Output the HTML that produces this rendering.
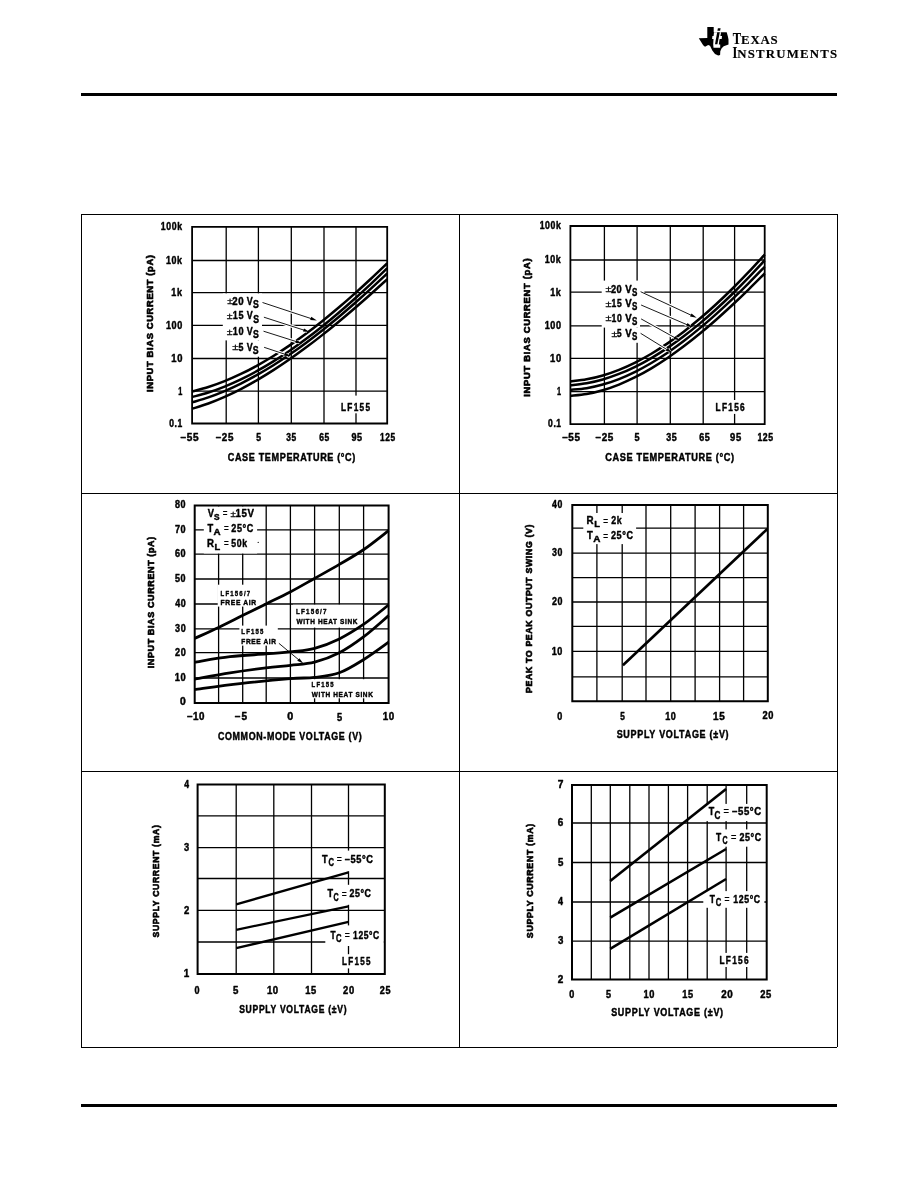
<!DOCTYPE html>
<html><head><meta charset="utf-8"><title>LF155/LF156 typical performance characteristics</title>
<style>
html,body{margin:0;padding:0;background:#fff;}
body{width:918px;height:1188px;overflow:hidden;position:relative;}
svg{position:absolute;left:0;top:0;display:block;filter:grayscale(1);}
text{font-family:"Liberation Sans",Arial,sans-serif;font-weight:bold;fill:#000;stroke:#000;stroke-width:0.45px;stroke-linejoin:round;}
line,path,rect,polygon,circle{stroke:#000;}
rect,polygon,circle{stroke:none;}
</style></head><body>
<svg width="918" height="1188" viewBox="0 0 918 1188">
<rect x="0" y="0" width="918" height="1188" fill="#fff"/>
<rect x="81" y="93" width="756" height="3"/>
<rect x="81" y="1104" width="756" height="3"/>
<line x1="81.5" y1="214" x2="81.5" y2="1047.5" stroke-width="1"/>
<line x1="837.5" y1="214" x2="837.5" y2="1047" stroke-width="1"/>
<line x1="81" y1="214.5" x2="838" y2="214.5" stroke-width="1"/>
<line x1="81" y1="1047.5" x2="837" y2="1047.5" stroke-width="1"/>
<line x1="459.5" y1="214" x2="459.5" y2="1047" stroke-width="1"/>
<line x1="81" y1="493.5" x2="837" y2="493.5" stroke-width="1"/>
<line x1="81" y1="771.5" x2="837" y2="771.5" stroke-width="1"/>
<line x1="226.2" y1="226.85" x2="226.2" y2="423.5" stroke-width="1.3"/>
<line x1="258.4" y1="226.85" x2="258.4" y2="423.5" stroke-width="1.3"/>
<line x1="291.3" y1="226.85" x2="291.3" y2="423.5" stroke-width="1.3"/>
<line x1="324" y1="226.85" x2="324" y2="423.5" stroke-width="1.3"/>
<line x1="356" y1="226.85" x2="356" y2="423.5" stroke-width="1.3"/>
<line x1="192.1" y1="260.5" x2="387.2" y2="260.5" stroke-width="1.3"/>
<line x1="192.1" y1="292.6" x2="387.2" y2="292.6" stroke-width="1.3"/>
<line x1="192.1" y1="325.4" x2="387.2" y2="325.4" stroke-width="1.3"/>
<line x1="192.1" y1="358.5" x2="387.2" y2="358.5" stroke-width="1.3"/>
<line x1="192.1" y1="391.2" x2="387.2" y2="391.2" stroke-width="1.3"/>
<rect x="222.8" y="293.4" width="39.2" height="47" fill="#fff"/>
<rect x="250" y="340.4" width="12" height="16.3" fill="#fff"/>
<rect x="340" y="395.6" width="32" height="17.7" fill="#fff"/>
<path d="M192.1 226.85H387.2V423.5H192.1Z" fill="none" stroke-width="1.8"/>
<path d="M192.1 391.47 C194.81 390.73 202.94 388.73 208.36 387.01 C213.78 385.29 219.2 383.33 224.62 381.16 C230.04 378.99 235.46 376.59 240.88 373.99 C246.29 371.4 251.71 368.59 257.13 365.59 C262.55 362.6 267.97 359.4 273.39 356.03 C278.81 352.67 284.23 349.11 289.65 345.4 C295.07 341.68 300.49 337.79 305.91 333.75 C311.33 329.72 316.75 325.52 322.17 321.19 C327.59 316.86 333.01 312.38 338.42 307.78 C343.84 303.18 349.26 298.44 354.68 293.59 C360.1 288.75 365.52 283.78 370.94 278.72 C376.36 273.66 384.49 265.81 387.2 263.23" fill="none" stroke-width="2.5"/>
<path d="M192.1 397.08 C194.81 396.31 202.94 394.26 208.36 392.51 C213.78 390.76 219.2 388.78 224.62 386.59 C230.04 384.4 235.46 381.98 240.88 379.38 C246.29 376.77 251.71 373.95 257.13 370.95 C262.55 367.95 267.97 364.74 273.39 361.37 C278.81 358 284.23 354.44 289.65 350.72 C295.07 347 300.49 343.11 305.91 339.07 C311.33 335.02 316.75 330.82 322.17 326.47 C327.59 322.13 333.01 317.64 338.42 313.02 C343.84 308.4 349.26 303.64 354.68 298.77 C360.1 293.9 365.52 288.9 370.94 283.8 C376.36 278.7 384.49 270.78 387.2 268.17" fill="none" stroke-width="2.5"/>
<path d="M192.1 402.38 C194.81 401.54 202.94 399.23 208.36 397.34 C213.78 395.46 219.2 393.34 224.62 391.04 C230.04 388.74 235.46 386.23 240.88 383.54 C246.29 380.85 251.71 377.96 257.13 374.91 C262.55 371.85 267.97 368.61 273.39 365.22 C278.81 361.82 284.23 358.25 289.65 354.53 C295.07 350.82 300.49 346.94 305.91 342.93 C311.33 338.92 316.75 334.75 322.17 330.47 C327.59 326.19 333.01 321.77 338.42 317.23 C343.84 312.7 349.26 308.04 354.68 303.28 C360.1 298.53 365.52 293.65 370.94 288.69 C376.36 283.73 384.49 276.06 387.2 273.53" fill="none" stroke-width="2.5"/>
<path d="M192.1 408.83 C194.81 407.94 202.94 405.47 208.36 403.47 C213.78 401.47 219.2 399.24 224.62 396.83 C230.04 394.43 235.46 391.81 240.88 389.02 C246.29 386.23 251.71 383.24 257.13 380.1 C262.55 376.96 267.97 373.63 273.39 370.16 C278.81 366.7 284.23 363.06 289.65 359.3 C295.07 355.54 300.49 351.62 305.91 347.59 C311.33 343.56 316.75 339.38 322.17 335.11 C327.59 330.84 333.01 326.45 338.42 321.96 C343.84 317.48 349.26 312.89 354.68 308.22 C360.1 303.55 365.52 298.79 370.94 293.97 C376.36 289.15 384.49 281.74 387.2 279.29" fill="none" stroke-width="2.5"/>
<line x1="270.1" y1="305.01" x2="314.53" y2="319.71" stroke-width="3.2" style="stroke:#fff"/>
<line x1="262.5" y1="302.5" x2="311.68" y2="318.77" stroke-width="0.9"/>
<polygon points="316.9,320.5 310.2,320.07 311.26,316.84"/>
<line x1="271.51" y1="319.66" x2="307.32" y2="331.23" stroke-width="3.2" style="stroke:#fff"/>
<line x1="263.9" y1="317.2" x2="304.47" y2="330.31" stroke-width="0.9"/>
<polygon points="309.7,332 302.99,331.62 304.04,328.38"/>
<line x1="271.13" y1="333.62" x2="299.62" y2="342.64" stroke-width="3.2" style="stroke:#fff"/>
<line x1="263.5" y1="331.2" x2="296.76" y2="341.74" stroke-width="0.9"/>
<polygon points="302,343.4 295.29,343.06 296.32,339.82"/>
<line x1="271.69" y1="349.83" x2="288.43" y2="355.41" stroke-width="3.2" style="stroke:#fff"/>
<line x1="264.1" y1="347.3" x2="285.58" y2="354.46" stroke-width="0.9"/>
<polygon points="290.8,356.2 284.1,355.76 285.17,352.53"/>
<text x="227.2" y="304.4" font-size="9.5" textLength="5.6" lengthAdjust="spacingAndGlyphs" style="font-weight:normal;stroke-width:0.25px">±</text>
<text transform="translate(232.27 304.5) scale(0.93 1)" font-size="10.4" textLength="12.21" lengthAdjust="spacing">20</text>
<text x="246.64" y="304.5" font-size="10.4" textLength="5.92" lengthAdjust="spacingAndGlyphs">V</text>
<text x="252.95" y="307.7" font-size="10.4" textLength="5.79" lengthAdjust="spacingAndGlyphs">S</text>
<text x="226.8" y="319.3" font-size="9.5" textLength="5.8" lengthAdjust="spacingAndGlyphs" style="font-weight:normal;stroke-width:0.25px">±</text>
<text transform="translate(232.83 319.4) scale(0.87 1)" font-size="10.4" textLength="12.26" lengthAdjust="spacing">15</text>
<text x="246.64" y="319.4" font-size="10.4" textLength="5.92" lengthAdjust="spacingAndGlyphs">V</text>
<text x="253.15" y="322.6" font-size="10.4" textLength="5.79" lengthAdjust="spacingAndGlyphs">S</text>
<text x="226.8" y="334.5" font-size="9.5" textLength="5.8" lengthAdjust="spacingAndGlyphs" style="font-weight:normal;stroke-width:0.25px">±</text>
<text transform="translate(232.83 334.6) scale(0.88 1)" font-size="10.4" textLength="12.25" lengthAdjust="spacing">10</text>
<text x="246.64" y="334.6" font-size="10.4" textLength="5.92" lengthAdjust="spacingAndGlyphs">V</text>
<text x="252.95" y="337.8" font-size="10.4" textLength="5.79" lengthAdjust="spacingAndGlyphs">S</text>
<text x="232.2" y="350.4" font-size="9.5" textLength="6.3" lengthAdjust="spacingAndGlyphs" style="font-weight:normal;stroke-width:0.25px">±</text>
<text x="238.53" y="350.5" font-size="10.4" textLength="4.92" lengthAdjust="spacingAndGlyphs">5</text>
<text x="246.64" y="350.5" font-size="10.4" textLength="5.92" lengthAdjust="spacingAndGlyphs">V</text>
<text x="252.75" y="353.7" font-size="10.4" textLength="5.79" lengthAdjust="spacingAndGlyphs">S</text>
<text transform="translate(341.04 410.7) scale(0.78 1)" font-size="10.6" textLength="37.28" lengthAdjust="spacing">LF155</text>
<text transform="translate(160.85 230.17) scale(0.87 1)" font-size="10" textLength="24.32" lengthAdjust="spacing">100k</text>
<text transform="translate(165.94 263.82) scale(0.89 1)" font-size="10" textLength="18.03" lengthAdjust="spacing">10k</text>
<text transform="translate(171.33 295.92) scale(0.9 1)" font-size="10" textLength="11.79" lengthAdjust="spacing">1k</text>
<text transform="translate(165.92 328.72) scale(0.91 1)" font-size="10" textLength="18" lengthAdjust="spacing">100</text>
<text transform="translate(171.31 361.82) scale(0.94 1)" font-size="10" textLength="11.76" lengthAdjust="spacing">10</text>
<text x="178.14" y="394.52" font-size="10" textLength="4.06" lengthAdjust="spacingAndGlyphs">1</text>
<text transform="translate(169.27 426.82) scale(0.85 1)" font-size="10" textLength="15.32" lengthAdjust="spacing">0.1</text>
<text transform="translate(180.6 440.6) scale(1 1)" font-size="10" textLength="17.98" lengthAdjust="spacing">–55</text>
<text transform="translate(215.8 440.6) scale(0.98 1)" font-size="10" textLength="17.91" lengthAdjust="spacing">–25</text>
<text x="256.13" y="440.6" font-size="10" textLength="4.81" lengthAdjust="spacingAndGlyphs">5</text>
<text transform="translate(286.31 440.6) scale(0.84 1)" font-size="10" textLength="11.84" lengthAdjust="spacing">35</text>
<text transform="translate(319.29 440.6) scale(0.85 1)" font-size="10" textLength="11.83" lengthAdjust="spacing">65</text>
<text transform="translate(351.39 440.6) scale(0.9 1)" font-size="10" textLength="11.79" lengthAdjust="spacing">95</text>
<text transform="translate(379.97 440.6) scale(0.84 1)" font-size="10" textLength="18.11" lengthAdjust="spacing">125</text>
<text transform="translate(227.73 460.6) scale(0.89 1)" font-size="10.2" textLength="143.36" lengthAdjust="spacing">CASE TEMPERATURE (°C)</text>
<text transform="translate(152.8 391.3) rotate(-90) scale(1 1)" x="-0.63" y="0" font-size="9.4" textLength="136.9" lengthAdjust="spacing" style="stroke-width:0.65px">INPUT BIAS CURRENT (pA)</text>
<line x1="604.4" y1="226" x2="604.4" y2="424.1" stroke-width="1.3"/>
<line x1="637.1" y1="226" x2="637.1" y2="424.1" stroke-width="1.3"/>
<line x1="670.3" y1="226" x2="670.3" y2="424.1" stroke-width="1.3"/>
<line x1="703.2" y1="226" x2="703.2" y2="424.1" stroke-width="1.3"/>
<line x1="734.6" y1="226" x2="734.6" y2="424.1" stroke-width="1.3"/>
<line x1="570.4" y1="260" x2="764.7" y2="260" stroke-width="1.3"/>
<line x1="570.4" y1="292.2" x2="764.7" y2="292.2" stroke-width="1.3"/>
<line x1="570.4" y1="325.9" x2="764.7" y2="325.9" stroke-width="1.3"/>
<line x1="570.4" y1="358.4" x2="764.7" y2="358.4" stroke-width="1.3"/>
<line x1="570.4" y1="391.7" x2="764.7" y2="391.7" stroke-width="1.3"/>
<rect x="601.7" y="280.6" width="38.3" height="47" fill="#fff"/>
<rect x="640" y="280.6" width="4.4" height="29.4" fill="#fff"/>
<rect x="630" y="327.6" width="10" height="15.2" fill="#fff"/>
<rect x="714" y="400" width="33" height="13.9" fill="#fff"/>
<path d="M570.4 226H764.7V424.1H570.4Z" fill="none" stroke-width="1.8"/>
<path d="M570.4 381.44 C573.1 381.09 581.19 380.34 586.59 379.34 C591.99 378.34 597.39 377.03 602.78 375.44 C608.18 373.86 613.58 371.97 618.98 369.82 C624.37 367.67 629.77 365.23 635.17 362.55 C640.56 359.86 645.96 356.9 651.36 353.71 C656.76 350.51 662.15 347.06 667.55 343.38 C672.95 339.7 678.34 335.77 683.74 331.64 C689.14 327.5 694.54 323.13 699.93 318.57 C705.33 314 710.73 309.21 716.12 304.24 C721.52 299.27 726.92 294.1 732.32 288.75 C737.71 283.4 743.11 277.86 748.51 272.16 C753.91 266.46 762 257.48 764.7 254.55" fill="none" stroke-width="2.5"/>
<path d="M570.4 385.25 C573.1 384.92 581.19 384.23 586.59 383.27 C591.99 382.31 597.39 381.03 602.78 379.48 C608.18 377.92 613.58 376.07 618.98 373.95 C624.37 371.84 629.77 369.43 635.17 366.78 C640.56 364.13 645.96 361.21 651.36 358.05 C656.76 354.9 662.15 351.48 667.55 347.85 C672.95 344.22 678.34 340.34 683.74 336.26 C689.14 332.17 694.54 327.86 699.93 323.36 C705.33 318.86 710.73 314.14 716.12 309.24 C721.52 304.35 726.92 299.25 732.32 293.99 C737.71 288.74 743.11 283.29 748.51 277.7 C753.91 272.1 762 263.31 764.7 260.44" fill="none" stroke-width="2.5"/>
<path d="M570.4 389.87 C573.1 389.59 581.19 389.09 586.59 388.21 C591.99 387.32 597.39 386.09 602.78 384.57 C608.18 383.04 613.58 381.19 618.98 379.07 C624.37 376.95 629.77 374.52 635.17 371.85 C640.56 369.17 645.96 366.21 651.36 363.02 C656.76 359.83 662.15 356.37 667.55 352.71 C672.95 349.05 678.34 345.14 683.74 341.04 C689.14 336.95 694.54 332.63 699.93 328.15 C705.33 323.67 710.73 318.98 716.12 314.15 C721.52 309.32 726.92 304.31 732.32 299.18 C737.71 294.04 743.11 288.74 748.51 283.35 C753.91 277.95 762 269.54 764.7 266.78" fill="none" stroke-width="2.5"/>
<path d="M570.4 395.87 C573.1 395.56 581.19 394.97 586.59 394.03 C591.99 393.09 597.39 391.79 602.78 390.22 C608.18 388.64 613.58 386.73 618.98 384.57 C624.37 382.4 629.77 379.93 635.17 377.22 C640.56 374.51 645.96 371.52 651.36 368.31 C656.76 365.11 662.15 361.64 667.55 357.97 C672.95 354.31 678.34 350.41 683.74 346.34 C689.14 342.27 694.54 337.98 699.93 333.55 C705.33 329.11 710.73 324.49 716.12 319.73 C721.52 314.98 726.92 310.06 732.32 305.03 C737.71 300 743.11 294.83 748.51 289.57 C753.91 284.31 762 276.17 764.7 273.49" fill="none" stroke-width="2.5"/>
<line x1="647.85" y1="295.07" x2="694.43" y2="316.75" stroke-width="3.2" style="stroke:#fff"/>
<line x1="640.6" y1="291.7" x2="691.71" y2="315.48" stroke-width="0.9"/>
<polygon points="696.7,317.8 690.09,316.6 691.52,313.52"/>
<line x1="648.45" y1="308.16" x2="690.5" y2="326.21" stroke-width="3.2" style="stroke:#fff"/>
<line x1="641.1" y1="305" x2="687.75" y2="325.03" stroke-width="0.9"/>
<polygon points="692.8,327.2 686.16,326.2 687.5,323.07"/>
<line x1="648.09" y1="322.8" x2="677.82" y2="339.38" stroke-width="3.2" style="stroke:#fff"/>
<line x1="641.1" y1="318.9" x2="675.2" y2="337.92" stroke-width="0.9"/>
<polygon points="680,340.6 673.5,338.92 675.15,335.95"/>
<line x1="647.41" y1="337.5" x2="670.07" y2="351.49" stroke-width="3.2" style="stroke:#fff"/>
<line x1="640.6" y1="333.3" x2="667.52" y2="349.91" stroke-width="0.9"/>
<polygon points="672.2,352.8 665.78,350.83 667.56,347.94"/>
<text x="605.5" y="292.4" font-size="9.5" textLength="6" lengthAdjust="spacingAndGlyphs" style="font-weight:normal;stroke-width:0.25px">±</text>
<text transform="translate(610.88 292.5) scale(0.89 1)" font-size="10.4" textLength="12.24" lengthAdjust="spacing">20</text>
<text x="625.13" y="292.5" font-size="10.4" textLength="6.43" lengthAdjust="spacingAndGlyphs">V</text>
<text x="632.07" y="295.7" font-size="10.4" textLength="5.34" lengthAdjust="spacingAndGlyphs">S</text>
<text x="605.5" y="307" font-size="9.5" textLength="6" lengthAdjust="spacingAndGlyphs" style="font-weight:normal;stroke-width:0.25px">±</text>
<text transform="translate(611.56 307.1) scale(0.82 1)" font-size="10.4" textLength="12.3" lengthAdjust="spacing">15</text>
<text x="625.13" y="307.1" font-size="10.4" textLength="6.43" lengthAdjust="spacingAndGlyphs">V</text>
<text x="632.07" y="310.3" font-size="10.4" textLength="5.34" lengthAdjust="spacingAndGlyphs">S</text>
<text x="605.5" y="321.4" font-size="9.5" textLength="6" lengthAdjust="spacingAndGlyphs" style="font-weight:normal;stroke-width:0.25px">±</text>
<text transform="translate(611.56 321.5) scale(0.83 1)" font-size="10.4" textLength="12.29" lengthAdjust="spacing">10</text>
<text x="625.13" y="321.5" font-size="10.4" textLength="6.43" lengthAdjust="spacingAndGlyphs">V</text>
<text x="632.07" y="324.7" font-size="10.4" textLength="5.34" lengthAdjust="spacingAndGlyphs">S</text>
<text x="611.6" y="336.6" font-size="9.5" textLength="5.9" lengthAdjust="spacingAndGlyphs" style="font-weight:normal;stroke-width:0.25px">±</text>
<text x="617.05" y="336.7" font-size="10.4" textLength="4.58" lengthAdjust="spacingAndGlyphs">5</text>
<text x="625.13" y="336.7" font-size="10.4" textLength="6.43" lengthAdjust="spacingAndGlyphs">V</text>
<text x="632.07" y="339.9" font-size="10.4" textLength="5.34" lengthAdjust="spacingAndGlyphs">S</text>
<text transform="translate(715.55 410.6) scale(0.78 1)" font-size="10.6" textLength="37.29" lengthAdjust="spacing">LF156</text>
<text transform="translate(539.65 229.32) scale(0.87 1)" font-size="10" textLength="24.32" lengthAdjust="spacing">100k</text>
<text transform="translate(544.74 263.32) scale(0.89 1)" font-size="10" textLength="18.03" lengthAdjust="spacing">10k</text>
<text transform="translate(550.13 295.52) scale(0.9 1)" font-size="10" textLength="11.79" lengthAdjust="spacing">1k</text>
<text transform="translate(544.72 329.22) scale(0.91 1)" font-size="10" textLength="18" lengthAdjust="spacing">100</text>
<text transform="translate(550.11 361.72) scale(0.94 1)" font-size="10" textLength="11.76" lengthAdjust="spacing">10</text>
<text x="556.94" y="395.02" font-size="10" textLength="4.06" lengthAdjust="spacingAndGlyphs">1</text>
<text transform="translate(548.07 427.42) scale(0.85 1)" font-size="10" textLength="15.32" lengthAdjust="spacing">0.1</text>
<text transform="translate(562.2 440.8) scale(0.99 1)" font-size="10" textLength="17.9" lengthAdjust="spacing">–55</text>
<text transform="translate(595.6 440.8) scale(0.99 1)" font-size="10" textLength="17.89" lengthAdjust="spacing">–25</text>
<text x="634.42" y="440.8" font-size="10" textLength="5.03" lengthAdjust="spacingAndGlyphs">5</text>
<text transform="translate(666.3 440.8) scale(0.89 1)" font-size="10" textLength="11.8" lengthAdjust="spacing">35</text>
<text transform="translate(699.27 440.8) scale(0.9 1)" font-size="10" textLength="11.79" lengthAdjust="spacing">65</text>
<text transform="translate(730.07 440.8) scale(0.94 1)" font-size="10" textLength="11.76" lengthAdjust="spacing">95</text>
<text transform="translate(757.45 440.8) scale(0.87 1)" font-size="10" textLength="18.06" lengthAdjust="spacing">125</text>
<text transform="translate(605.22 460.8) scale(0.9 1)" font-size="10.2" textLength="143.24" lengthAdjust="spacing">CASE TEMPERATURE (°C)</text>
<text transform="translate(529.9 396.1) rotate(-90) scale(1 1)" x="-0.63" y="0" font-size="9.4" textLength="138.3" lengthAdjust="spacing" style="stroke-width:0.65px">INPUT BIAS CURRENT (pA)</text>
<line x1="218.6" y1="505.5" x2="218.6" y2="703" stroke-width="1.3"/>
<line x1="242.7" y1="505.5" x2="242.7" y2="703" stroke-width="1.3"/>
<line x1="266.2" y1="505.5" x2="266.2" y2="703" stroke-width="1.3"/>
<line x1="290.4" y1="505.5" x2="290.4" y2="703" stroke-width="1.3"/>
<line x1="314.6" y1="505.5" x2="314.6" y2="703" stroke-width="1.3"/>
<line x1="339.3" y1="505.5" x2="339.3" y2="703" stroke-width="1.3"/>
<line x1="363.6" y1="505.5" x2="363.6" y2="703" stroke-width="1.3"/>
<line x1="194.7" y1="529.8" x2="388.6" y2="529.8" stroke-width="1.3"/>
<line x1="194.7" y1="554.2" x2="388.6" y2="554.2" stroke-width="1.3"/>
<line x1="194.7" y1="579" x2="388.6" y2="579" stroke-width="1.3"/>
<line x1="194.7" y1="604" x2="388.6" y2="604" stroke-width="1.3"/>
<line x1="194.7" y1="628.8" x2="388.6" y2="628.8" stroke-width="1.3"/>
<line x1="194.7" y1="652.7" x2="388.6" y2="652.7" stroke-width="1.3"/>
<line x1="194.7" y1="678" x2="388.6" y2="678" stroke-width="1.3"/>
<rect x="203.8" y="506.4" width="53.3" height="47.1" fill="#fff"/>
<rect x="217.7" y="584.7" width="46.1" height="21.9" fill="#fff"/>
<rect x="239.4" y="625.6" width="38.4" height="20" fill="#fff"/>
<rect x="293" y="604.7" width="69.5" height="22.9" fill="#fff"/>
<rect x="308" y="679.2" width="68" height="19.1" fill="#fff"/>
<path d="M194.7 505.5H388.6V703H194.7Z" fill="none" stroke-width="2"/>
<path d="M194.7 638.4 C198.68 636.57 210.65 631.2 218.6 627.4 C226.55 623.6 234.48 619.52 242.4 615.6 C250.32 611.68 258.13 607.83 266.1 603.9 C274.07 599.97 282.15 596.23 290.2 592 C298.25 587.77 306.2 583.1 314.4 578.5 C322.6 573.9 331.17 569.23 339.4 564.4 C347.63 559.57 355.6 555.13 363.8 549.5 C372 543.87 384.47 533.75 388.6 530.6" fill="none" stroke-width="2.8"/>
<path d="M194.7 662.2 C200.58 661.28 218.12 658.08 230 656.7 C241.88 655.32 255.6 654.75 266 653.9 C276.4 653.05 284.3 652.53 292.4 651.6 C300.5 650.67 306.78 650.42 314.6 648.3 C322.42 646.18 331.1 642.92 339.3 638.9 C347.5 634.88 355.58 629.85 363.8 624.2 C372.02 618.55 384.47 608.2 388.6 605" fill="none" stroke-width="2.8"/>
<path d="M194.7 679.1 C200.58 678.05 218.12 674.68 230 672.8 C241.88 670.92 255.9 669.05 266 667.8 C276.1 666.55 282.5 666.23 290.6 665.3 C298.7 664.37 306.48 664.28 314.6 662.2 C322.72 660.12 331.1 657.05 339.3 652.8 C347.5 648.55 355.58 642.9 363.8 636.7 C372.02 630.5 384.47 619.12 388.6 615.6" fill="none" stroke-width="2.8"/>
<path d="M194.7 689.4 C202.25 688.43 224.12 685.4 240 683.6 C255.88 681.8 277.57 679.63 290 678.6 C302.43 677.57 306.38 678.37 314.6 677.4 C322.82 676.43 331.1 675.78 339.3 672.8 C347.5 669.82 355.58 664.6 363.8 659.5 C372.02 654.4 384.47 645.08 388.6 642.2" fill="none" stroke-width="2.8"/>
<line x1="278.9" y1="643.3" x2="299.07" y2="660.08" stroke-width="0.9"/>
<polygon points="303.3,663.6 297.22,660.75 299.39,658.14"/>
<text x="207.64" y="516.9" font-size="11.2" textLength="6.23" lengthAdjust="spacingAndGlyphs">V</text>
<text x="214.06" y="520.2" font-size="9.52" textLength="5.57" lengthAdjust="spacingAndGlyphs">S</text>
<text x="222.8" y="517" font-size="11.2" textLength="4.7" lengthAdjust="spacingAndGlyphs" style="font-weight:normal;stroke-width:0.3px">=</text>
<text x="230.5" y="516.8" font-size="9.5" textLength="5.4" lengthAdjust="spacingAndGlyphs" style="font-weight:normal;stroke-width:0.25px">±</text>
<text transform="translate(235.39 516.9) scale(0.87 1)" font-size="11.2" textLength="21.31" lengthAdjust="spacing">15V</text>
<text x="207.6" y="531.9" font-size="11.2" textLength="5.71" lengthAdjust="spacingAndGlyphs">T</text>
<text x="213.56" y="534.7" font-size="9.52" textLength="7.1" lengthAdjust="spacingAndGlyphs">A</text>
<text x="223.9" y="531.9" font-size="11.2" textLength="4.7" lengthAdjust="spacingAndGlyphs" style="font-weight:normal;stroke-width:0.3px">=</text>
<text transform="translate(231.28 531.9) scale(0.81 1)" font-size="11.2" textLength="27.24" lengthAdjust="spacing">25°C</text>
<text x="207.06" y="546.9" font-size="11.2" textLength="6.94" lengthAdjust="spacingAndGlyphs">R</text>
<text x="214.47" y="550.2" font-size="9.52" textLength="5.71" lengthAdjust="spacingAndGlyphs">L</text>
<text x="223.9" y="546.9" font-size="11.2" textLength="4.7" lengthAdjust="spacingAndGlyphs" style="font-weight:normal;stroke-width:0.3px">=</text>
<text transform="translate(231.33 546.9) scale(0.78 1)" font-size="11.2" textLength="20.23" lengthAdjust="spacing">50k</text>
<circle cx="258.2" cy="542.4" r="0.6"/>
<text transform="translate(220.6 595.8) scale(0.74 1)" font-size="8.1" textLength="39.88" lengthAdjust="spacing">LF156/7</text>
<text transform="translate(220.55 605.2) scale(0.83 1)" font-size="8.1" textLength="42.86" lengthAdjust="spacing">FREE AIR</text>
<text transform="translate(241.3 633.9) scale(0.74 1)" font-size="8.1" textLength="29.88" lengthAdjust="spacing">LF155</text>
<text transform="translate(241.26 643.9) scale(0.81 1)" font-size="8.1" textLength="42.96" lengthAdjust="spacing">FREE AIR</text>
<text transform="translate(296.08 614) scale(0.77 1)" font-size="8.1" textLength="39.53" lengthAdjust="spacing">LF156/7</text>
<text transform="translate(296.39 623.9) scale(0.8 1)" font-size="8.1" textLength="76.35" lengthAdjust="spacing">WITH HEAT SINK</text>
<text transform="translate(311.6 687.3) scale(0.73 1)" font-size="8.1" textLength="29.96" lengthAdjust="spacing">LF155</text>
<text transform="translate(311.79 697.2) scale(0.8 1)" font-size="8.1" textLength="76.29" lengthAdjust="spacing">WITH HEAT SINK</text>
<text transform="translate(175.01 507.92) scale(0.9 1)" font-size="10" textLength="11.79" lengthAdjust="spacing">80</text>
<text transform="translate(174.91 532.52) scale(0.91 1)" font-size="10" textLength="11.78" lengthAdjust="spacing">70</text>
<text transform="translate(174.97 556.92) scale(0.91 1)" font-size="10" textLength="11.78" lengthAdjust="spacing">60</text>
<text transform="translate(175.02 581.62) scale(0.9 1)" font-size="10" textLength="11.79" lengthAdjust="spacing">50</text>
<text transform="translate(175.17 606.62) scale(0.89 1)" font-size="10" textLength="11.8" lengthAdjust="spacing">40</text>
<text transform="translate(175.09 631.62) scale(0.9 1)" font-size="10" textLength="11.79" lengthAdjust="spacing">30</text>
<text transform="translate(174.99 655.52) scale(0.91 1)" font-size="10" textLength="11.78" lengthAdjust="spacing">20</text>
<text transform="translate(174.71 680.62) scale(0.93 1)" font-size="10" textLength="11.77" lengthAdjust="spacing">10</text>
<text x="179.99" y="705.32" font-size="10" textLength="5.73" lengthAdjust="spacingAndGlyphs">0</text>
<text transform="translate(187 720.4) scale(0.98 1)" font-size="10" textLength="17.91" lengthAdjust="spacing">–10</text>
<text transform="translate(234.8 720.4) scale(1 1)" font-size="10" textLength="12.28" lengthAdjust="spacing">–5</text>
<text x="287.38" y="720.4" font-size="10" textLength="5.96" lengthAdjust="spacingAndGlyphs">0</text>
<text x="337.12" y="721.2" font-size="10" textLength="5.14" lengthAdjust="spacingAndGlyphs">5</text>
<text transform="translate(382.68 720.4) scale(0.98 1)" font-size="10" textLength="11.73" lengthAdjust="spacing">10</text>
<text transform="translate(217.93 740.3) scale(0.87 1)" font-size="10.2" textLength="165.26" lengthAdjust="spacing">COMMON-MODE VOLTAGE (V)</text>
<text transform="translate(154.4 667.7) rotate(-90) scale(0.96 1)" x="-0.63" y="0" font-size="9.4" textLength="137.01" lengthAdjust="spacing" style="stroke-width:0.65px">INPUT BIAS CURRENT (pA)</text>
<line x1="596.9" y1="504.9" x2="596.9" y2="701.2" stroke-width="1.3"/>
<line x1="622.2" y1="504.9" x2="622.2" y2="701.2" stroke-width="1.3"/>
<line x1="646" y1="504.9" x2="646" y2="701.2" stroke-width="1.3"/>
<line x1="670.7" y1="504.9" x2="670.7" y2="701.2" stroke-width="1.3"/>
<line x1="695.1" y1="504.9" x2="695.1" y2="701.2" stroke-width="1.3"/>
<line x1="719.6" y1="504.9" x2="719.6" y2="701.2" stroke-width="1.3"/>
<line x1="743.6" y1="504.9" x2="743.6" y2="701.2" stroke-width="1.3"/>
<line x1="572.3" y1="528.2" x2="767.8" y2="528.2" stroke-width="1.3"/>
<line x1="572.3" y1="553.1" x2="767.8" y2="553.1" stroke-width="1.3"/>
<line x1="572.3" y1="577.6" x2="767.8" y2="577.6" stroke-width="1.3"/>
<line x1="572.3" y1="602" x2="767.8" y2="602" stroke-width="1.3"/>
<line x1="572.3" y1="626.4" x2="767.8" y2="626.4" stroke-width="1.3"/>
<line x1="572.3" y1="651.3" x2="767.8" y2="651.3" stroke-width="1.3"/>
<line x1="572.3" y1="676.9" x2="767.8" y2="676.9" stroke-width="1.3"/>
<rect x="583.3" y="513" width="52.8" height="31.1" fill="#fff"/>
<path d="M572.3 504.9H767.8V701.2H572.3Z" fill="none" stroke-width="2"/>
<line x1="622.9" y1="665.3" x2="767.3" y2="529" stroke-width="2.6"/>
<text x="586.55" y="523.6" font-size="11.2" textLength="7.05" lengthAdjust="spacingAndGlyphs">R</text>
<text x="594.17" y="526.9" font-size="9.52" textLength="5.71" lengthAdjust="spacingAndGlyphs">L</text>
<text x="603.2" y="524.6" font-size="11.2" textLength="4.8" lengthAdjust="spacingAndGlyphs" style="font-weight:normal;stroke-width:0.3px">=</text>
<text transform="translate(611.29 523.6) scale(0.79 1)" font-size="11.2" textLength="13.22" lengthAdjust="spacing">2k</text>
<text x="587.09" y="538.9" font-size="11.2" textLength="5.81" lengthAdjust="spacingAndGlyphs">T</text>
<text x="593.15" y="541.9" font-size="9.52" textLength="7.21" lengthAdjust="spacingAndGlyphs">A</text>
<text x="603.2" y="539.9" font-size="11.2" textLength="4.8" lengthAdjust="spacingAndGlyphs" style="font-weight:normal;stroke-width:0.3px">=</text>
<text transform="translate(610.88 538.9) scale(0.81 1)" font-size="11.2" textLength="27.24" lengthAdjust="spacing">25°C</text>
<text transform="translate(552.07 508.22) scale(0.87 1)" font-size="10" textLength="11.81" lengthAdjust="spacing">40</text>
<text transform="translate(552 556.42) scale(0.88 1)" font-size="10" textLength="11.81" lengthAdjust="spacing">30</text>
<text transform="translate(551.89 605.32) scale(0.89 1)" font-size="10" textLength="11.8" lengthAdjust="spacing">20</text>
<text transform="translate(551.63 654.62) scale(0.91 1)" font-size="10" textLength="11.78" lengthAdjust="spacing">10</text>
<text x="557.14" y="719.8" font-size="10" textLength="5.03" lengthAdjust="spacingAndGlyphs">0</text>
<text x="620.15" y="719.8" font-size="10" textLength="4.58" lengthAdjust="spacingAndGlyphs">5</text>
<text transform="translate(665.23 719.8) scale(0.9 1)" font-size="10" textLength="11.79" lengthAdjust="spacing">10</text>
<text transform="translate(713.08 719.8) scale(0.99 1)" font-size="10" textLength="11.73" lengthAdjust="spacing">15</text>
<text transform="translate(762.38 718.5) scale(0.93 1)" font-size="10" textLength="11.77" lengthAdjust="spacing">20</text>
<text transform="translate(616.64 738.2) scale(0.88 1)" font-size="10.2" textLength="127.23" lengthAdjust="spacing">SUPPLY VOLTAGE (±V)</text>
<text transform="translate(532 692.4) rotate(-90) scale(0.94 1)" x="-0.63" y="0" font-size="9.4" textLength="179.18" lengthAdjust="spacing" style="stroke-width:0.65px">PEAK TO PEAK OUTPUT SWING (V)</text>
<line x1="236.2" y1="784.4" x2="236.2" y2="974" stroke-width="1.3"/>
<line x1="273.8" y1="784.4" x2="273.8" y2="974" stroke-width="1.3"/>
<line x1="311.5" y1="784.4" x2="311.5" y2="974" stroke-width="1.3"/>
<line x1="348.5" y1="784.4" x2="348.5" y2="974" stroke-width="1.3"/>
<line x1="197.6" y1="815.8" x2="384.8" y2="815.8" stroke-width="1.3"/>
<line x1="197.6" y1="847.6" x2="384.8" y2="847.6" stroke-width="1.3"/>
<line x1="197.6" y1="878.5" x2="384.8" y2="878.5" stroke-width="1.3"/>
<line x1="197.6" y1="910.4" x2="384.8" y2="910.4" stroke-width="1.3"/>
<line x1="197.6" y1="942" x2="384.8" y2="942" stroke-width="1.3"/>
<rect x="320" y="850.6" width="64" height="20.6" fill="#fff"/>
<rect x="325" y="884.8" width="59" height="20" fill="#fff"/>
<rect x="325.3" y="925.4" width="58.5" height="20.6" fill="#fff"/>
<rect x="340" y="954.2" width="32" height="14.2" fill="#fff"/>
<path d="M197.6 784.4H384.8V974H197.6Z" fill="none" stroke-width="2"/>
<line x1="236.2" y1="904.4" x2="348.5" y2="872.3" stroke-width="2.3"/>
<line x1="236.2" y1="929.8" x2="348.5" y2="906.3" stroke-width="2.3"/>
<line x1="236.2" y1="948.2" x2="348.5" y2="921.8" stroke-width="2.3"/>
<text x="322.1" y="863" font-size="10.4" textLength="5.6" lengthAdjust="spacingAndGlyphs">T</text>
<text x="328.39" y="866.2" font-size="10.4" textLength="5.52" lengthAdjust="spacingAndGlyphs">C</text>
<text x="336.7" y="863.1" font-size="10.4" textLength="5" lengthAdjust="spacingAndGlyphs" style="font-weight:normal;stroke-width:0.3px">=</text>
<text transform="translate(344.72 863) scale(0.89 1)" font-size="10.4" textLength="31.71" lengthAdjust="spacing">–55°C</text>
<text x="327.5" y="897.4" font-size="10.4" textLength="5.6" lengthAdjust="spacingAndGlyphs">T</text>
<text x="333.41" y="900.6" font-size="10.4" textLength="5.19" lengthAdjust="spacingAndGlyphs">C</text>
<text x="341.7" y="897.5" font-size="10.4" textLength="4.9" lengthAdjust="spacingAndGlyphs" style="font-weight:normal;stroke-width:0.3px">=</text>
<text transform="translate(349.39 897.4) scale(0.85 1)" font-size="10.4" textLength="25.34" lengthAdjust="spacing">25°C</text>
<text x="330.61" y="938.6" font-size="10.4" textLength="5.08" lengthAdjust="spacingAndGlyphs">T</text>
<text x="336.09" y="941.8" font-size="10.4" textLength="5.52" lengthAdjust="spacingAndGlyphs">C</text>
<text x="344.8" y="938.7" font-size="10.4" textLength="5" lengthAdjust="spacingAndGlyphs" style="font-weight:normal;stroke-width:0.3px">=</text>
<text transform="translate(353.06 938.6) scale(0.82 1)" font-size="10.4" textLength="31.94" lengthAdjust="spacing">125°C</text>
<text transform="translate(342.06 964.9) scale(0.76 1)" font-size="10.6" textLength="37.48" lengthAdjust="spacing">LF155</text>
<text x="184.17" y="787.72" font-size="10" textLength="4.78" lengthAdjust="spacingAndGlyphs">4</text>
<text x="184.09" y="850.92" font-size="10" textLength="5.15" lengthAdjust="spacingAndGlyphs">3</text>
<text x="183.97" y="913.72" font-size="10" textLength="5.31" lengthAdjust="spacingAndGlyphs">2</text>
<text x="183.68" y="977.32" font-size="10" textLength="5.5" lengthAdjust="spacingAndGlyphs">1</text>
<text x="194.54" y="993.8" font-size="10" textLength="5.03" lengthAdjust="spacingAndGlyphs">0</text>
<text x="232.9" y="993.8" font-size="10" textLength="5.37" lengthAdjust="spacingAndGlyphs">5</text>
<text transform="translate(266.89 993.8) scale(0.96 1)" font-size="10" textLength="11.75" lengthAdjust="spacing">10</text>
<text transform="translate(305.21 993.8) scale(0.93 1)" font-size="10" textLength="11.77" lengthAdjust="spacing">15</text>
<text transform="translate(343.08 993.8) scale(0.94 1)" font-size="10" textLength="11.76" lengthAdjust="spacing">20</text>
<text transform="translate(379.79 993.8) scale(0.9 1)" font-size="10" textLength="11.79" lengthAdjust="spacing">25</text>
<text transform="translate(239.15 1012.8) scale(0.84 1)" font-size="10.2" textLength="127.83" lengthAdjust="spacing">SUPPLY VOLTAGE (±V)</text>
<text transform="translate(158.8 937.2) rotate(-90) scale(0.92 1)" x="-0.27" y="0" font-size="9.4" textLength="121.99" lengthAdjust="spacing" style="stroke-width:0.65px">SUPPLY CURRENT (mA)</text>
<line x1="591.3" y1="785" x2="591.3" y2="979.6" stroke-width="1.3"/>
<line x1="610.3" y1="785" x2="610.3" y2="979.6" stroke-width="1.3"/>
<line x1="629.8" y1="785" x2="629.8" y2="979.6" stroke-width="1.3"/>
<line x1="649" y1="785" x2="649" y2="979.6" stroke-width="1.3"/>
<line x1="668.4" y1="785" x2="668.4" y2="979.6" stroke-width="1.3"/>
<line x1="687.6" y1="785" x2="687.6" y2="979.6" stroke-width="1.3"/>
<line x1="707.2" y1="785" x2="707.2" y2="979.6" stroke-width="1.3"/>
<line x1="726.1" y1="785" x2="726.1" y2="979.6" stroke-width="1.3"/>
<line x1="746.7" y1="785" x2="746.7" y2="979.6" stroke-width="1.3"/>
<line x1="572" y1="823" x2="766.7" y2="823" stroke-width="1.3"/>
<line x1="572" y1="862.5" x2="766.7" y2="862.5" stroke-width="1.3"/>
<line x1="572" y1="902" x2="766.7" y2="902" stroke-width="1.3"/>
<line x1="572" y1="941.1" x2="766.7" y2="941.1" stroke-width="1.3"/>
<rect x="705.5" y="803.9" width="60" height="17.2" fill="#fff"/>
<rect x="714" y="829.4" width="51.5" height="17.3" fill="#fff"/>
<rect x="703.3" y="891.1" width="61.1" height="16.7" fill="#fff"/>
<rect x="716" y="952.9" width="35" height="14.1" fill="#fff"/>
<path d="M572 785H766.7V979.6H572Z" fill="none" stroke-width="2"/>
<line x1="610.2" y1="880.9" x2="726.1" y2="789" stroke-width="2.6"/>
<line x1="610.2" y1="917.6" x2="726.1" y2="849" stroke-width="2.6"/>
<line x1="610.2" y1="948.9" x2="726.1" y2="879" stroke-width="2.6"/>
<text x="708.7" y="815.3" font-size="10.4" textLength="5.5" lengthAdjust="spacingAndGlyphs">T</text>
<text x="714.57" y="818.5" font-size="10.4" textLength="5.85" lengthAdjust="spacingAndGlyphs">C</text>
<text x="723.6" y="815.4" font-size="10.4" textLength="5.4" lengthAdjust="spacingAndGlyphs" style="font-weight:normal;stroke-width:0.3px">=</text>
<text transform="translate(732.11 815.3) scale(0.92 1)" font-size="10.4" textLength="31.63" lengthAdjust="spacing">–55°C</text>
<text x="715.9" y="841.2" font-size="10.4" textLength="5.19" lengthAdjust="spacingAndGlyphs">T</text>
<text x="722.61" y="844.4" font-size="10.4" textLength="5.08" lengthAdjust="spacingAndGlyphs">C</text>
<text x="730.9" y="841.3" font-size="10.4" textLength="5.4" lengthAdjust="spacingAndGlyphs" style="font-weight:normal;stroke-width:0.3px">=</text>
<text transform="translate(739.39 841.2) scale(0.86 1)" font-size="10.4" textLength="25.32" lengthAdjust="spacing">25°C</text>
<text x="709.8" y="902.5" font-size="10.4" textLength="5.19" lengthAdjust="spacingAndGlyphs">T</text>
<text x="715.69" y="905.7" font-size="10.4" textLength="5.52" lengthAdjust="spacingAndGlyphs">C</text>
<text x="724.4" y="902.6" font-size="10.4" textLength="5" lengthAdjust="spacingAndGlyphs" style="font-weight:normal;stroke-width:0.3px">=</text>
<text transform="translate(733.35 902.5) scale(0.84 1)" font-size="10.4" textLength="31.88" lengthAdjust="spacing">125°C</text>
<text transform="translate(719.45 963.6) scale(0.78 1)" font-size="10.6" textLength="37.34" lengthAdjust="spacing">LF156</text>
<text x="557.76" y="788.32" font-size="10" textLength="5.69" lengthAdjust="spacingAndGlyphs">7</text>
<text x="557.84" y="826.32" font-size="10" textLength="5.52" lengthAdjust="spacingAndGlyphs">6</text>
<text x="557.9" y="865.82" font-size="10" textLength="5.37" lengthAdjust="spacingAndGlyphs">5</text>
<text x="558.06" y="905.32" font-size="10" textLength="4.98" lengthAdjust="spacingAndGlyphs">4</text>
<text x="557.98" y="944.42" font-size="10" textLength="5.37" lengthAdjust="spacingAndGlyphs">3</text>
<text x="557.85" y="982.92" font-size="10" textLength="5.54" lengthAdjust="spacingAndGlyphs">2</text>
<text x="569.14" y="998.1" font-size="10" textLength="5.03" lengthAdjust="spacingAndGlyphs">0</text>
<text x="606.12" y="998.1" font-size="10" textLength="5.03" lengthAdjust="spacingAndGlyphs">5</text>
<text transform="translate(643.41 998.1) scale(0.93 1)" font-size="10" textLength="11.77" lengthAdjust="spacing">10</text>
<text transform="translate(682.22 998.1) scale(0.92 1)" font-size="10" textLength="11.78" lengthAdjust="spacing">15</text>
<text transform="translate(721.26 998.1) scale(0.98 1)" font-size="10" textLength="11.73" lengthAdjust="spacing">20</text>
<text transform="translate(760.17 998.1) scale(0.94 1)" font-size="10" textLength="11.76" lengthAdjust="spacing">25</text>
<text transform="translate(611.14 1016.4) scale(0.88 1)" font-size="10.2" textLength="127.22" lengthAdjust="spacing">SUPPLY VOLTAGE (±V)</text>
<text transform="translate(532.5 937.9) rotate(-90) scale(0.94 1)" x="-0.27" y="0" font-size="9.4" textLength="121.66" lengthAdjust="spacing" style="stroke-width:0.65px">SUPPLY CURRENT (mA)</text>
<polygon points="707.3,26.9 713.7,26.9 713.7,32.3 726.7,32.3 727.9,36.6 728.5,39.4 728.5,44.4 723.7,46.2 721.5,48.5 720.3,51.3 720.1,54.9 718.2,55.6 715,54 712.3,50.4 710,45.8 708.2,44.9 705,46.7 703.2,45.3 698.8,38.2 707.3,38"/>
<polygon fill="#fff" points="714.0,32.3 721.1,32.3 720.4,36.0 722.0,36.0 721.7,39.1 719.6,39.1 718.8,44.5 720.2,44.5 720.2,47.8 713.5,47.8 713.2,44.5 713.5,39.1 712.1,39.1 712.4,36.0 713.6,36.0"/>
<polygon points="717.2,32.3 719.8,32.3 717.4,44.3 715.0,44.3"/>
<polygon points="717.9,28.2 720.6,28.2 720.1,30.7 717.4,30.7"/>
<text x="732.8" y="43.8" font-size="17.4" textLength="8.39" lengthAdjust="spacingAndGlyphs" style="font-family:'Liberation Serif',serif;font-weight:bold;stroke-width:0.15px">T</text>
<text transform="translate(741.08 43.8) scale(1 1)" font-size="12.8" textLength="36.46" lengthAdjust="spacing" style="font-family:'Liberation Serif',serif;font-weight:bold;stroke-width:0.15px">EXAS</text>
<text x="732.58" y="58.2" font-size="17.1" textLength="4.84" lengthAdjust="spacingAndGlyphs" style="font-family:'Liberation Serif',serif;font-weight:bold;stroke-width:0.15px">I</text>
<text transform="translate(737.26 58.2) scale(1 1)" font-size="12.8" textLength="99.99" lengthAdjust="spacing" style="font-family:'Liberation Serif',serif;font-weight:bold;stroke-width:0.15px">NSTRUMENTS</text>
</svg>
</body></html>
